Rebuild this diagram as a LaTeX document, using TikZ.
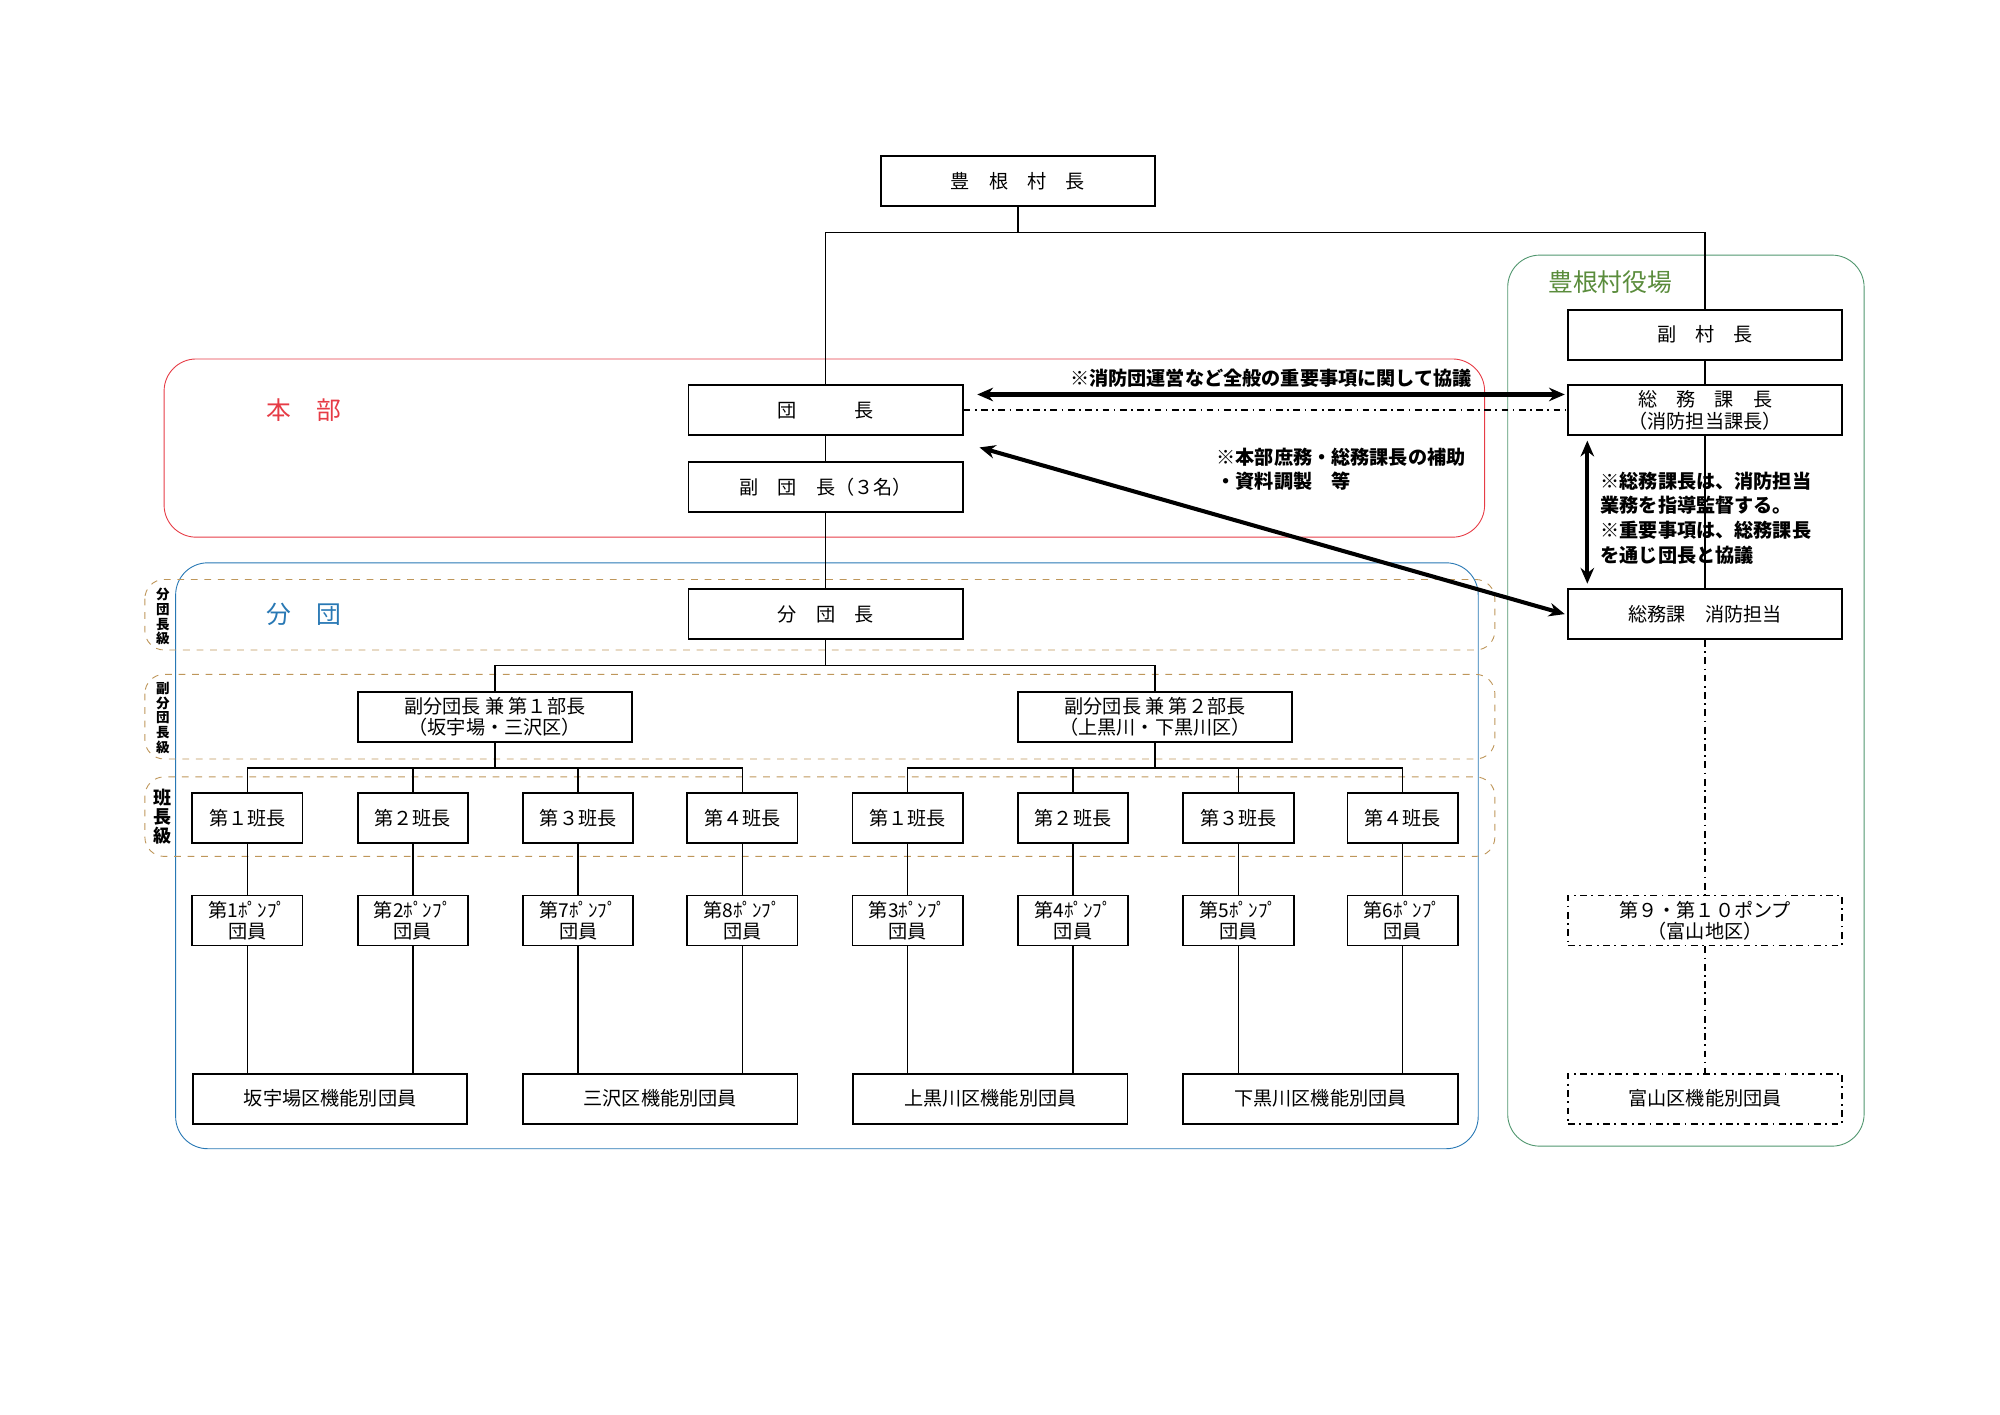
\documentclass[tikz,border=0pt]{standalone}
\usepackage{fontspec}
\setmainfont{Noto Sans CJK JP}
\usetikzlibrary{positioning,arrows.meta}
\definecolor{honbured}{RGB}{230,60,70}
\definecolor{bundanblue}{RGB}{40,120,180}
\definecolor{yakubagreen}{RGB}{80,150,110}
\definecolor{labelgreen}{RGB}{90,140,60}
\definecolor{bandorange}{RGB}{190,150,90}
\tikzset{
  box/.style={draw, line width=0.8pt, minimum width=42.8mm, minimum height=7.8mm, inner sep=1pt, align=center, font=\fontsize{8.5}{9.5}\selectfont},
  small/.style={box, minimum width=17.2mm},
  dbox/.style={box, dash dot},
  note/.style={font=\fontsize{8.5}{11}\selectfont\bfseries, align=left},
  band/.style={draw=bandorange, dashed, rounded corners=3mm, thin},
  bandlabel/.style={font=\fontsize{6}{6.5}\selectfont\bfseries, align=center, inner sep=0pt},
  relation/.style={{Stealth[length=7pt,width=6pt]}-{Stealth[length=7pt,width=6pt]}, line width=1.8pt},
}
\begin{document}
\begin{tikzpicture}[x=0.2mm, y=-0.2mm, line width=0.7pt]
    \useasboundingbox (0,0) rectangle (1560,1103);
    % frames
    \draw[honbured, rounded corners=5mm, thin] (128,280) rectangle (1158,419);
    \draw[bundanblue, rounded corners=5mm, thin] (137,439) rectangle (1153,896);
    \draw[yakubagreen, rounded corners=5mm, thin] (1176,199) rectangle (1454,894);
    \draw[band] (113,452) rectangle (1166,507);
    \draw[band] (113,526) rectangle (1166,592);
    \draw[band] (113,606) rectangle (1166,668);
    \node[bandlabel] (lbl1) at (127,481) {分\\団\\長\\級};
    \node[bandlabel] (lbl2) at (127,560) {副\\分\\団\\長\\級};
    \node[bandlabel, font=\fontsize{8}{8.5}\selectfont\bfseries] (lbl3) at (127,637) {班\\長\\級};
    \node[text=honbured, font=\fontsize{11}{12}\selectfont] (honbu) at (237,320) {本\quad 部};
    \node[text=bundanblue, font=\fontsize{11}{12}\selectfont] (bundan) at (237,479) {分\quad 団};
    \node[text=labelgreen, font=\fontsize{11}{12}\selectfont] (yakuba) at (1256,220) {豊根村役場};
    % main column
    \node[box, fill=white] (sonchou) at (794,141) {豊\quad 根\quad 村\quad 長};
    \node[box, fill=white] (danchou) at (644,320) {団\qquad\quad 長};
    \node[box] (fukudan) at (644,380) {副\quad 団\quad 長（３名）};
    \node[box, fill=white] (bundanchou) at (644,479) {分\quad 団\quad 長};
    \node[box, fill=white] (fuku1) at (386,559) {副分団長\ 兼\ 第１部長\\（坂宇場・三沢区）};
    \node[box, fill=white] (fuku2) at (901,559) {副分団長\ 兼\ 第２部長\\（上黒川・下黒川区）};
    % office column
    \node[box] (fukuson) at (1330,261) {副\quad 村\quad 長};
    \node[box] (soumu) at (1330,320) {総\quad 務\quad 課\quad 長\\（消防担当課長）};
    \node[box] (shoubou) at (1330,479) {総務課\quad 消防担当};
    \node[dbox] (pump9) at (1330,718) {第９・第１０ポンプ\\（富山地区）};
    \node[dbox] (tomiyama) at (1330,857) {富山区機能別団員};
    % squads
    \foreach \n/\x/\h/\p in {1/193/第１班長/第1ﾎﾟﾝﾌﾟ, 2/322/第２班長/第2ﾎﾟﾝﾌﾟ, 3/451/第３班長/第7ﾎﾟﾝﾌﾟ, 4/579/第４班長/第8ﾎﾟﾝﾌﾟ,
                          5/708/第１班長/第3ﾎﾟﾝﾌﾟ, 6/837/第２班長/第4ﾎﾟﾝﾌﾟ, 7/966/第３班長/第5ﾎﾟﾝﾌﾟ, 8/1094/第４班長/第6ﾎﾟﾝﾌﾟ} {
        \node[small, fill=white] (han\n) at (\x,638) {\h};
        \node[small] (pump\n) at (\x,718) {\p\\団員};
        \draw (han\n) -- (pump\n);
    }
    \node[box] (sakauba) at (257.5,857) {坂宇場区機能別団員};
    \node[box] (misawa) at (515,857) {三沢区機能別団員};
    \node[box] (kamiguro) at (772.5,857) {上黒川区機能別団員};
    \node[box] (shimoguro) at (1030,857) {下黒川区機能別団員};
    \draw (pump1.south) -- (pump1.south |- sakauba.north);
    \draw (pump2.south) -- (pump2.south |- sakauba.north);
    \draw (pump3.south) -- (pump3.south |- misawa.north);
    \draw (pump4.south) -- (pump4.south |- misawa.north);
    \draw (pump5.south) -- (pump5.south |- kamiguro.north);
    \draw (pump6.south) -- (pump6.south |- kamiguro.north);
    \draw (pump7.south) -- (pump7.south |- shimoguro.north);
    \draw (pump8.south) -- (pump8.south |- shimoguro.north);
    % connectors
    \draw (sonchou.south) -- ++(0,20) -| (danchou.north);
    \draw (sonchou.south) ++(0,20) -| (fukuson.north);
    \draw (danchou) -- (fukudan);
    \draw (fukudan) -- (bundanchou);
    \draw (bundanchou.south) -- ++(0,20) -| (fuku1.north);
    \draw (bundanchou.south) ++(0,20) -| (fuku2.north);
    \foreach \n in {1,2,3,4} \draw (fuku1.south) -- ++(0,20) -| (han\n.north);
    \foreach \n in {5,6,7,8} \draw (fuku2.south) -- ++(0,20) -| (han\n.north);
    \draw (fukuson) -- (soumu);
    \draw (soumu) -- (shoubou);
    \draw[dash dot] (shoubou) -- (pump9);
    \draw[dash dot] (pump9) -- (tomiyama);
    % relations
    \draw[relation] ([xshift=6pt, yshift=7pt]danchou.east) -- node[above, note, yshift=-1pt] {※消防団運営など全般の重要事項に関して協議} ([xshift=-1pt, yshift=7pt]soumu.west);
    \draw[dash dot, line width=0.9pt] (danchou.east) -- (soumu.west);
    \draw[relation] ([xshift=7pt, yshift=-5pt]danchou.south east) -- ([xshift=-1pt]shoubou.west);
    \node[note] (hojo) at (1046,366) {※本部庶務・総務課長の補助\\・資料調製\quad 等};
    \draw[relation] ([xshift=9pt, yshift=-2pt]soumu.south west) -- ([xshift=9pt, yshift=2pt]shoubou.north west);
    \node[note, anchor=west] (kantoku) at (1242,404) {※総務課長は、消防担当\\業務を指導監督する。\\※重要事項は、総務課長\\を通じ団長と協議};
\end{tikzpicture}
\end{document}
